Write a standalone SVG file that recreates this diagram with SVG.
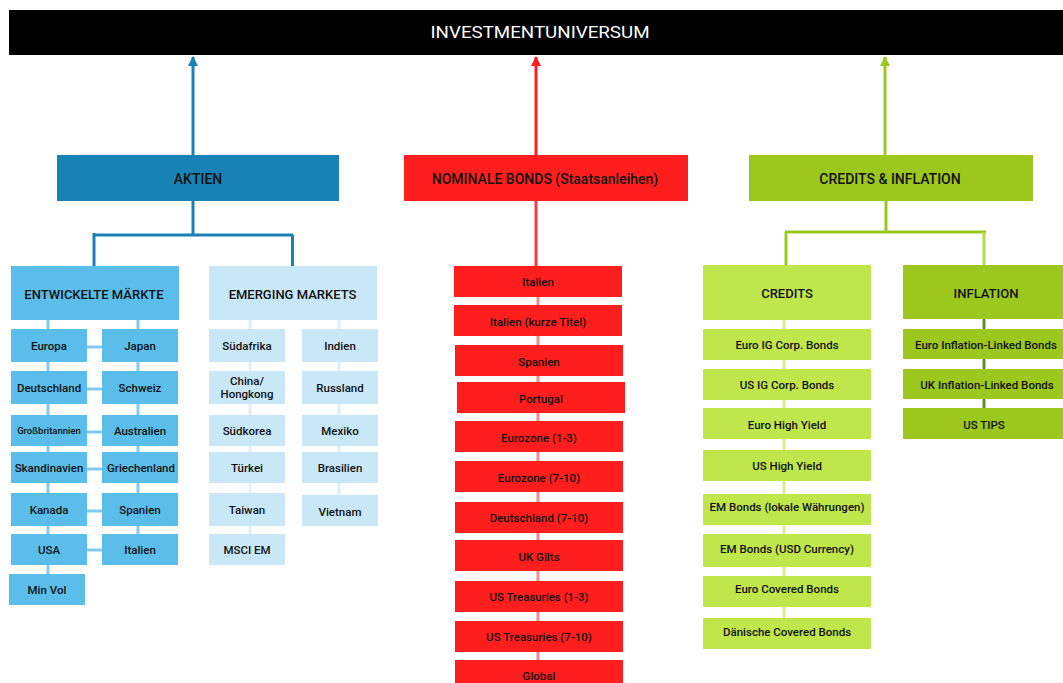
<svg xmlns="http://www.w3.org/2000/svg" width="1063" height="683" viewBox="0 0 1063 683">
  <defs>
    <style>
      text { font-family: Roboto, "Liberation Sans", sans-serif; text-anchor: middle; dominant-baseline: central; fill: #111; }
      .hd { font-size: 17px; font-weight: 400; fill: #fff; }
      .cat { font-size: 14px; font-weight: 500; }
      .sub { font-size: 13px; font-weight: 500; }
      .it { font-size: 11.5px; font-weight: 500; }
      .sm { font-size: 9.5px; font-weight: 500; }
      .blue { fill: #1982b5; }
      .dev { fill: #5bbdea; }
      .em { fill: #c8e8f7; }
      .red { fill: #ff1e1e; }
      .grn { fill: #9cc71d; }
      .lime { fill: #bfe64a; }
      line { stroke-width: 3; fill: none; }
    </style>
    <marker id="ahB" markerWidth="10" markerHeight="10" refX="5" refY="1" markerUnits="userSpaceOnUse" viewBox="0 0 10 10"><path d="M0,10 L5,0 L10,10 Z" fill="#1982b5"/></marker>
    <marker id="ahR" markerWidth="10" markerHeight="10" refX="5" refY="1" markerUnits="userSpaceOnUse" viewBox="0 0 10 10"><path d="M0,10 L5,0 L10,10 Z" fill="#ff1e1e"/></marker>
    <marker id="ahG" markerWidth="10" markerHeight="10" refX="5" refY="1" markerUnits="userSpaceOnUse" viewBox="0 0 10 10"><path d="M0,10 L5,0 L10,10 Z" fill="#9cc71d"/></marker>
  </defs>

  <!-- connectors -->
  <g id="connectors">
    <!-- main branches up to the universe bar -->
    <line x1="193" y1="155" x2="193" y2="57" stroke="#1982b5" marker-end="url(#ahB)"/>
    <line x1="536" y1="155" x2="536" y2="57" stroke="#ff1e1e" marker-end="url(#ahR)"/>
    <line x1="885" y1="155" x2="885" y2="57" stroke="#9cc71d" marker-end="url(#ahG)"/>

    <!-- Aktien split -->
    <line x1="193" y1="200" x2="193" y2="235" stroke="#1982b5"/>
    <line x1="94" y1="235" x2="293" y2="235" stroke="#1982b5"/>
    <line x1="94" y1="233" x2="94" y2="266" stroke="#1982b5"/>
    <line x1="292.5" y1="235" x2="292.5" y2="266" stroke="#1982b5"/>

    <!-- developed markets columns -->
    <line x1="48" y1="320" x2="48" y2="574" stroke="#80cbee"/>
    <line x1="138" y1="320" x2="138" y2="534" stroke="#80cbee"/>
    <g stroke="#80cbee">
      <line x1="87" y1="347" x2="102" y2="347"/>
      <line x1="87" y1="389" x2="102" y2="389"/>
      <line x1="87" y1="432" x2="102" y2="432"/>
      <line x1="87" y1="469" x2="102" y2="469"/>
      <line x1="87" y1="511" x2="102" y2="511"/>
      <line x1="87" y1="550" x2="102" y2="550"/>
    </g>

    <!-- emerging markets columns -->
    <line x1="250" y1="320" x2="250" y2="534" stroke="#dcf0fa"/>
    <line x1="339" y1="320" x2="339" y2="495" stroke="#dcf0fa"/>

    <!-- nominal bonds -->
    <line x1="536" y1="200" x2="536" y2="266" stroke="#ff3c3c"/>
    <line x1="538" y1="297" x2="538" y2="660" stroke="#f88a8a"/>

    <!-- credits & inflation split -->
    <line x1="886" y1="200" x2="886" y2="232" stroke="#9cc71d"/>
    <line x1="785" y1="232" x2="986" y2="232" stroke="#9cc71d"/>
    <line x1="786" y1="232" x2="786" y2="265" stroke="#9cc71d"/>
    <line x1="984" y1="232" x2="984" y2="265" stroke="#b5da45"/>
    <line x1="784" y1="320" x2="784" y2="618" stroke="#d6ef8e"/>
    <line x1="984" y1="319" x2="984" y2="408" stroke="#6e8a22"/>
  </g>

  <!-- universe bar -->
  <g id="investmentuniversum">
    <rect x="9" y="10" width="1054" height="45" fill="#000"/>
    <text class="hd" x="540" y="32" textLength="219" lengthAdjust="spacingAndGlyphs">INVESTMENTUNIVERSUM</text>
  </g>

  <!-- Aktien -->
  <g id="aktien">
    <rect class="blue" x="57" y="155" width="282" height="46"/>
    <text class="cat" x="198" y="179">AKTIEN</text>
  </g>
  <g id="entwickelte-maerkte">
    <rect class="dev" x="11" y="266" width="168" height="54"/>
    <text class="sub" x="94" y="294">ENTWICKELTE MÄRKTE</text>
  </g>
  <g id="emerging-markets">
    <rect class="em" x="209" y="266" width="168" height="54"/>
    <text class="sub" x="292.5" y="294">EMERGING MARKETS</text>
  </g>

  <g id="dm-europa"><rect class="dev" x="11" y="329" width="76" height="33"/><text class="it" x="49" y="346">Europa</text></g>
  <g id="dm-deutschland"><rect class="dev" x="11" y="371" width="76" height="33"/><text class="it" x="49" y="388">Deutschland</text></g>
  <g id="dm-grossbritannien"><rect class="dev" x="11" y="415" width="76" height="31"/><text class="sm" x="49" y="430.5">Großbritannien</text></g>
  <g id="dm-skandinavien"><rect class="dev" x="11" y="452" width="76" height="31"/><text class="it" x="49" y="468">Skandinavien</text></g>
  <g id="dm-kanada"><rect class="dev" x="11" y="493" width="76" height="33"/><text class="it" x="49" y="510">Kanada</text></g>
  <g id="dm-usa"><rect class="dev" x="11" y="534" width="76" height="31"/><text class="it" x="49" y="550">USA</text></g>
  <g id="dm-minvol"><rect class="dev" x="9" y="574" width="76" height="31"/><text class="it" x="47" y="590">Min Vol</text></g>

  <g id="dm-japan"><rect class="dev" x="102" y="329" width="76" height="33"/><text class="it" x="140" y="346">Japan</text></g>
  <g id="dm-schweiz"><rect class="dev" x="102" y="371" width="76" height="33"/><text class="it" x="140" y="388">Schweiz</text></g>
  <g id="dm-australien"><rect class="dev" x="102" y="415" width="76" height="31"/><text class="it" x="140" y="430.5">Australien</text></g>
  <g id="dm-griechenland"><rect class="dev" x="102" y="452" width="76" height="31"/><text class="it" x="141" y="468">Griechenland</text></g>
  <g id="dm-spanien"><rect class="dev" x="102" y="493" width="76" height="33"/><text class="it" x="140" y="510">Spanien</text></g>
  <g id="dm-italien"><rect class="dev" x="102" y="534" width="76" height="31"/><text class="it" x="140" y="550">Italien</text></g>

  <g id="em-suedafrika"><rect class="em" x="209" y="329" width="76" height="33"/><text class="it" x="247" y="346">Südafrika</text></g>
  <g id="em-china"><rect class="em" x="209" y="371" width="76" height="33"/><text class="it" x="247" y="381">China/</text><text class="it" x="247" y="394">Hongkong</text></g>
  <g id="em-suedkorea"><rect class="em" x="209" y="415" width="76" height="31"/><text class="it" x="247" y="430.5">Südkorea</text></g>
  <g id="em-tuerkei"><rect class="em" x="209" y="452" width="76" height="31"/><text class="it" x="247" y="468">Türkei</text></g>
  <g id="em-taiwan"><rect class="em" x="209" y="493" width="76" height="33"/><text class="it" x="247" y="510">Taiwan</text></g>
  <g id="em-msci"><rect class="em" x="209" y="534" width="76" height="31"/><text class="it" x="247" y="550">MSCI EM</text></g>

  <g id="em-indien"><rect class="em" x="302" y="329" width="76" height="33"/><text class="it" x="340" y="346">Indien</text></g>
  <g id="em-russland"><rect class="em" x="302" y="371" width="76" height="33"/><text class="it" x="340" y="388">Russland</text></g>
  <g id="em-mexiko"><rect class="em" x="302" y="415" width="76" height="31"/><text class="it" x="340" y="430.5">Mexiko</text></g>
  <g id="em-brasilien"><rect class="em" x="302" y="452" width="76" height="31"/><text class="it" x="340" y="468">Brasilien</text></g>
  <g id="em-vietnam"><rect class="em" x="302" y="495" width="76" height="31"/><text class="it" x="340" y="512">Vietnam</text></g>

  <!-- Nominale Bonds -->
  <g id="nominale-bonds">
    <rect class="red" x="404" y="155" width="284" height="46"/>
    <text class="cat" x="545" y="179">NOMINALE BONDS (Staatsanleihen)</text>
  </g>
  <g id="nb-italien"><rect class="red" x="454" y="266" width="168" height="31"/><text class="it" x="538" y="282">Italien</text></g>
  <g id="nb-italien-kurz"><rect class="red" x="454" y="305" width="168" height="31"/><text class="it" x="538" y="322">Italien (kurze Titel)</text></g>
  <g id="nb-spanien"><rect class="red" x="455" y="345" width="168" height="31"/><text class="it" x="539" y="362">Spanien</text></g>
  <g id="nb-portugal"><rect class="red" x="457" y="382" width="168" height="31"/><text class="it" x="541" y="399">Portugal</text></g>
  <g id="nb-eurozone-1-3"><rect class="red" x="455" y="421" width="168" height="31"/><text class="it" x="539" y="438">Eurozone (1-3)</text></g>
  <g id="nb-eurozone-7-10"><rect class="red" x="455" y="461" width="168" height="31"/><text class="it" x="539" y="478">Eurozone (7-10)</text></g>
  <g id="nb-deutschland"><rect class="red" x="455" y="502" width="168" height="31"/><text class="it" x="539" y="518">Deutschland (7-10)</text></g>
  <g id="nb-uk-gilts"><rect class="red" x="455" y="540" width="168" height="31"/><text class="it" x="539" y="557">UK Gilts</text></g>
  <g id="nb-ust-1-3"><rect class="red" x="455" y="581" width="168" height="31"/><text class="it" x="539" y="597">US Treasuries (1-3)</text></g>
  <g id="nb-ust-7-10"><rect class="red" x="455" y="621" width="168" height="31"/><text class="it" x="539" y="637">US Treasuries (7-10)</text></g>
  <g id="nb-global"><rect class="red" x="455" y="660" width="168" height="31"/><text class="it" x="539" y="676">Global</text></g>

  <!-- Credits & Inflation -->
  <g id="credits-inflation">
    <rect class="grn" x="749" y="155" width="284" height="46"/>
    <text class="cat" x="890" y="179">CREDITS &amp; INFLATION</text>
  </g>
  <g id="credits">
    <rect class="lime" x="703" y="265" width="168" height="55"/>
    <text class="sub" x="787" y="293">CREDITS</text>
  </g>
  <g id="inflation">
    <rect class="grn" x="903" y="265" width="166" height="54"/>
    <text class="sub" x="986" y="293">INFLATION</text>
  </g>

  <g id="cr-euro-ig"><rect class="lime" x="703" y="329" width="168" height="31"/><text class="it" x="787" y="345">Euro IG Corp. Bonds</text></g>
  <g id="cr-us-ig"><rect class="lime" x="703" y="369" width="168" height="31"/><text class="it" x="787" y="385">US IG Corp. Bonds</text></g>
  <g id="cr-euro-hy"><rect class="lime" x="703" y="408" width="168" height="31"/><text class="it" x="787" y="425">Euro High Yield</text></g>
  <g id="cr-us-hy"><rect class="lime" x="703" y="450" width="168" height="31"/><text class="it" x="787" y="466">US High Yield</text></g>
  <g id="cr-em-lokal"><rect class="lime" x="703" y="494" width="168" height="31"/><text class="it" x="787" y="507">EM Bonds (lokale Währungen)</text></g>
  <g id="cr-em-usd"><rect class="lime" x="703" y="534" width="168" height="33"/><text class="it" x="787" y="549">EM Bonds (USD Currency)</text></g>
  <g id="cr-euro-covered"><rect class="lime" x="703" y="576" width="168" height="31"/><text class="it" x="787" y="589">Euro Covered Bonds</text></g>
  <g id="cr-daenische-covered"><rect class="lime" x="703" y="618" width="168" height="31"/><text class="it" x="787" y="632">Dänische Covered Bonds</text></g>

  <g id="in-euro-ilb"><rect class="grn" x="903" y="329" width="166" height="30"/><text class="it" x="986" y="345">Euro Inflation-Linked Bonds</text></g>
  <g id="in-uk-ilb"><rect class="grn" x="903" y="369" width="166" height="30"/><text class="it" x="987" y="385">UK Inflation-Linked Bonds</text></g>
  <g id="in-us-tips"><rect class="grn" x="903" y="408" width="166" height="31"/><text class="it" x="984" y="425">US TIPS</text></g>
</svg>
